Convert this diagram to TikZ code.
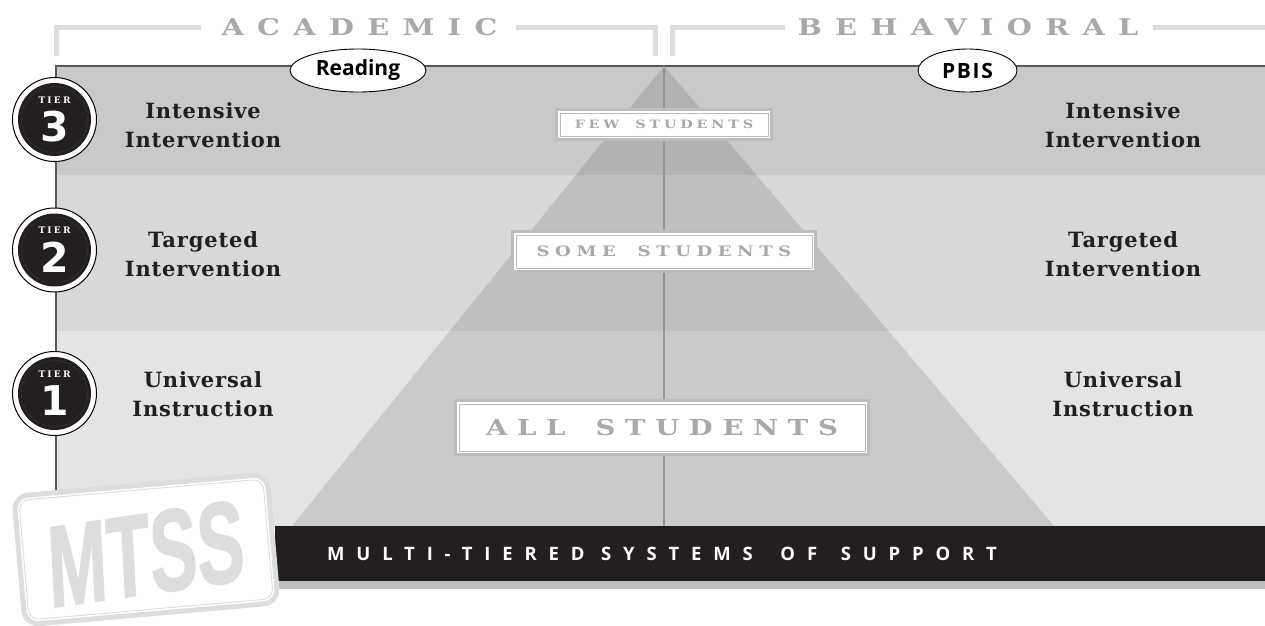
\documentclass[tikz,border=0pt]{standalone}
\usepackage{fontspec}
\setmainfont{DejaVu Serif}
\newfontfamily\slabfont{DejaVu Serif}[BoldFont={DejaVu Serif Bold}]
\newfontfamily\widefont{DejaVu Serif}[BoldFont={DejaVu Serif Bold},BoldFeatures={FakeStretch=1.25}]
\newfontfamily\sansbold{Open Sans}[BoldFont={Open Sans Bold}]
\newfontfamily\digitfont{DejaVu Sans}[BoldFont={DejaVu Sans Bold}]
\newfontfamily\stampfont{Liberation Sans}[BoldFont={Liberation Sans Bold},BoldFeatures={FakeBold=1.5}]
\definecolor{bandthree}{HTML}{C9C9C9}
\definecolor{bandtwo}{HTML}{D8D8D8}
\definecolor{bandone}{HTML}{E4E4E4}
\definecolor{inkblack}{HTML}{231F20}
\definecolor{framegray}{HTML}{DCDDDE}
\definecolor{lettergray}{HTML}{A7A9AC}
\definecolor{boxgray}{HTML}{BCBDC0}
\definecolor{edgegray}{HTML}{58595B}
\definecolor{midgray}{HTML}{939598}
\tikzset{
  header/.style={lettergray,font=\fontsize{23}{23}\widefont\bfseries\addfontfeature{LetterSpace=58},inner sep=0pt},
  bracket/.style={framegray,line width=5pt},
  tiertext/.style={inkblack,font=\fontsize{21}{29}\slabfont\bfseries\addfontfeature{LetterSpace=4},align=center,inner sep=0pt},
  oval/.style={draw=black,fill=white,ellipse,line width=.9pt,inner sep=0pt,font=\fontsize{21}{21}\sansbold\bfseries},
  studentbox/.style={draw=boxgray,fill=white,line width=3pt,inner sep=0pt,text=lettergray},
}
\usetikzlibrary{shapes.geometric}
\begin{document}
\begin{tikzpicture}[x=1pt,y=-1pt]
  \useasboundingbox (0,0) rectangle (1265,625);
  \clip (0,0) rectangle (1265,625);
  \fill[bandthree] (56,66) rectangle (1265,175);
  \fill[bandtwo] (56,175) rectangle (1265,331);
  \fill[bandone] (56,331) rectangle (1265,526);
  \fill[black,opacity=.11] (664,66) -- (292,526) -- (1054,526) -- cycle;
  \draw[edgegray,line width=1.3pt] (56,490) -- (56,66) -- (1265,66);
  \draw[midgray,line width=1.1pt] (664,66) -- (664,526);
  \fill[boxgray] (270,581) rectangle (1265,589);
  \node[fill=inkblack,minimum width=990pt,minimum height=55pt,inner sep=0pt,anchor=north west] (bar) at (275,526) {};
  \node[white,font=\fontsize{18.5}{18.5}\sansbold\bfseries\addfontfeature{LetterSpace=64},anchor=west,inner sep=0pt] (barlabel) at (327,554) {MULTI-TIERED SYSTEMS\hspace{11pt} OF\hspace{7pt} SUPPORT};
  % brackets and headers
  \node[header] (academic) at (359.5,27.5) {ACADEMIC};
  \node[header] (behavioral) at (968,27.5) {BEHAVIORAL};
  \coordinate (acleft) at (56,56);
  \coordinate (acright) at (655,56);
  \coordinate (beleft) at (672,56);
  \draw[bracket] (acleft) |- (201,27.5);
  \draw[bracket] (516,27.5) -| (acright);
  \draw[bracket] (beleft) |- (785,27.5);
  \draw[bracket] (1153,27.5) -- (1265,27.5);
  \node[oval,minimum width=136pt,minimum height=43pt] (reading) at (358,70.5) {Reading};
  \node[oval,minimum width=99pt,minimum height=43pt] (pbis) at (967.5,70.5) {\addfontfeature{LetterSpace=8}PBIS};
  % student boxes
  \foreach \name/\first/\gap/\cx/\cy/\boxw/\boxh/\fs/\ls in {few/FEW/7/664/124.5/215/30/11.5/33,some/SOME/10/664/251.5/303/40/14.5/38,all/ALL/11/662/427.5/413/54/22/44} {
    \node[studentbox,minimum width=\boxw pt,minimum height=\boxh pt,font=\fontsize{\fs}{\fs}\widefont\bfseries\addfontfeature{LetterSpace=\ls}] (\name) at (\cx,\cy) {\first\hspace{\gap pt} STUDENTS};
    \draw[boxgray,line width=.9pt] ([shift={(5,-5)}]\name.south west) rectangle ([shift={(-5,5)}]\name.north east);
  }
  % side labels
  \foreach \cx/\side in {203/l,1123/r} {
    \node[tiertext] (intensive\side) at (\cx,125.5) {Intensive\\Intervention};
    \node[tiertext] (targeted\side) at (\cx,254) {Targeted\\Intervention};
    \node[tiertext] (universal\side) at (\cx,394.5) {Universal\\Instruction};
  }
  % tier badges
  \foreach \n/\cy in {3/119.5,2/250,1/393.5} {
    \node[circle,draw=black,fill=white,line width=1pt,minimum size=84pt,inner sep=0pt] (tier\n) at (54.5,\cy) {};
    \node[circle,fill=inkblack,minimum size=73pt,inner sep=0pt] (disc\n) at (tier\n) {};
    \node[circle,draw=gray,densely dotted,line width=.3pt,minimum size=66pt,inner sep=0pt] (ring\n) at (tier\n) {};
    \node[white,font=\fontsize{9}{9}\slabfont\bfseries\addfontfeature{LetterSpace=25},inner sep=0pt] (tierword\n) at ([yshift=19.5pt]tier\n) {TIER};
    \node[white,font=\fontsize{41}{41}\digitfont\bfseries,inner sep=0pt] (tiernum\n) at ([yshift=-7pt]tier\n) {\n};
  }
  % stamp
  \node[draw=framegray,fill=white,rounded corners=14pt,line width=5pt,minimum width=254pt,minimum height=129pt,inner sep=0pt,rotate=5] (stamp) at (146,549.5) {};
  \node[draw=framegray,rounded corners=10pt,line width=.9pt,minimum width=245pt,minimum height=120pt,inner sep=0pt,rotate=5] (stampline) at (stamp) {};
  \node[framegray,font=\fontsize{116}{116}\stampfont\bfseries,xscale=.61,inner sep=0pt,rotate=5] (mtss) at (146,554) {MTSS};
\end{tikzpicture}
\end{document}
